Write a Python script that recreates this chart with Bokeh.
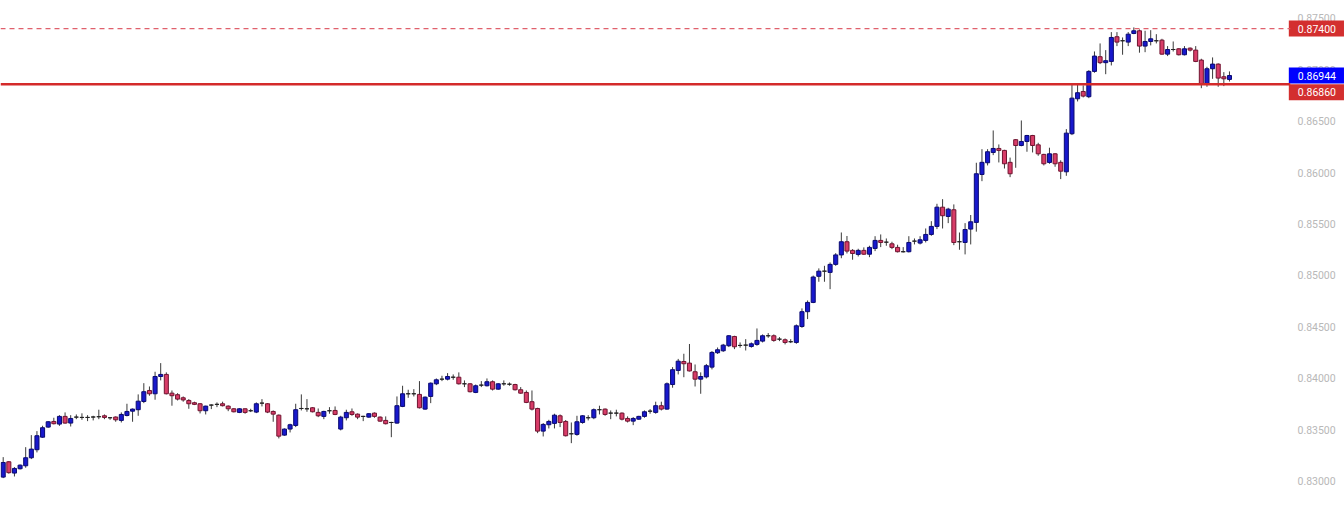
from bokeh.plotting import figure
from bokeh.models import ColumnDataSource, Span, Label, FixedTicker, NumeralTickFormatter
from bokeh.embed import file_html
from bokeh.resources import INLINE

opens = [0.83040, 0.83189, 0.83079, 0.83121, 0.83150, 0.83228, 0.83306, 0.83428, 0.83526, 0.83581,
         0.83555, 0.83630, 0.83565, 0.83623, 0.83620, 0.83620, 0.83624, 0.83627, 0.83636, 0.83617,
         0.83624, 0.83591, 0.83639, 0.83681, 0.83695, 0.83775, 0.83882, 0.83850, 0.84018, 0.84038,
         0.83856, 0.83841, 0.83811, 0.83785, 0.83763, 0.83753, 0.83685, 0.83740, 0.83747, 0.83753,
         0.83730, 0.83704, 0.83669, 0.83704, 0.83685, 0.83672, 0.83759, 0.83753, 0.83678, 0.83642,
         0.83448, 0.83507, 0.83542, 0.83707, 0.83704, 0.83714, 0.83669, 0.83630, 0.83685, 0.83688,
         0.83507, 0.83617, 0.83675, 0.83652, 0.83630, 0.83623, 0.83662, 0.83623, 0.83591, 0.83571,
         0.83565, 0.83727, 0.83850, 0.83850, 0.83844, 0.83701, 0.83824, 0.83947, 0.83992, 0.83992,
         0.84011, 0.84011, 0.83947, 0.83947, 0.83863, 0.83934, 0.83928, 0.83967, 0.83895, 0.83947,
         0.83943, 0.83940, 0.83889, 0.83863, 0.83773, 0.83707, 0.83487, 0.83549, 0.83562, 0.83636,
         0.83581, 0.83461, 0.83455, 0.83571, 0.83617, 0.83617, 0.83695, 0.83701, 0.83662, 0.83662,
         0.83662, 0.83610, 0.83584, 0.83603, 0.83630, 0.83681, 0.83669, 0.83734, 0.83701, 0.83940,
         0.84077, 0.84164, 0.84148, 0.84064, 0.83992, 0.84014, 0.84109, 0.84249, 0.84268, 0.84317,
         0.84407, 0.84320, 0.84323, 0.84310, 0.84330, 0.84362, 0.84414, 0.84414, 0.84381, 0.84375,
         0.84356, 0.84349, 0.84504, 0.84648, 0.84738, 0.84992, 0.85042, 0.85030, 0.85108, 0.85200,
         0.85328, 0.85244, 0.85205, 0.85244, 0.85207, 0.85263, 0.85341, 0.85324, 0.85308, 0.85273,
         0.85231, 0.85231, 0.85334, 0.85315, 0.85341, 0.85399, 0.85477, 0.85664, 0.85574, 0.85639,
         0.85328, 0.85321, 0.85451, 0.85516, 0.85982, 0.86096, 0.86196, 0.86235, 0.86216, 0.86100,
         0.86320, 0.86264, 0.86303, 0.86361, 0.86270, 0.86177, 0.86099, 0.86183, 0.86100, 0.86008,
         0.86378, 0.86718, 0.86789, 0.86738, 0.86984, 0.87127, 0.87069, 0.87081, 0.87321, 0.87282,
         0.87269, 0.87353, 0.87379, 0.87230, 0.87275, 0.87282, 0.87288, 0.87152, 0.87197, 0.87204,
         0.87146, 0.87210, 0.87191, 0.87094, 0.86867, 0.87010, 0.87055, 0.86932, 0.86906]

highs = [0.83234, 0.83195, 0.83137, 0.83163, 0.83331, 0.83448, 0.83487, 0.83539, 0.83584, 0.83617,
         0.83642, 0.83669, 0.83642, 0.83649, 0.83660, 0.83642, 0.83636, 0.83695, 0.83649, 0.83623,
         0.83630, 0.83669, 0.83753, 0.83707, 0.83844, 0.83953, 0.83921, 0.84064, 0.84148, 0.84058,
         0.83882, 0.83856, 0.83824, 0.83798, 0.83773, 0.83759, 0.83734, 0.83747, 0.83766, 0.83773,
         0.83737, 0.83710, 0.83710, 0.83707, 0.83704, 0.83766, 0.83798, 0.83759, 0.83688, 0.83649,
         0.83513, 0.83559, 0.83753, 0.83844, 0.83798, 0.83720, 0.83707, 0.83685, 0.83720, 0.83727,
         0.83636, 0.83695, 0.83707, 0.83659, 0.83636, 0.83662, 0.83669, 0.83630, 0.83630, 0.83578,
         0.83824, 0.83928, 0.83889, 0.83895, 0.83973, 0.83824, 0.83960, 0.83999, 0.84025, 0.84051,
         0.84038, 0.84058, 0.83980, 0.83953, 0.83940, 0.83973, 0.83999, 0.83980, 0.83953, 0.83980,
         0.83960, 0.83947, 0.83915, 0.83882, 0.83882, 0.83714, 0.83565, 0.83597, 0.83656, 0.83649,
         0.83595, 0.83571, 0.83636, 0.83642, 0.83642, 0.83707, 0.83734, 0.83707, 0.83688, 0.83695,
         0.83669, 0.83630, 0.83623, 0.83636, 0.83688, 0.83701, 0.83773, 0.83773, 0.83960, 0.84109,
         0.84189, 0.84239, 0.84334, 0.84135, 0.84058, 0.84140, 0.84265, 0.84300, 0.84335, 0.84420,
         0.84414, 0.84349, 0.84381, 0.84349, 0.84485, 0.84427, 0.84440, 0.84427, 0.84401, 0.84388,
         0.84381, 0.84524, 0.84680, 0.84757, 0.84999, 0.85069, 0.85094, 0.85127, 0.85217, 0.85418,
         0.85384, 0.85256, 0.85260, 0.85273, 0.85289, 0.85382, 0.85399, 0.85360, 0.85328, 0.85299,
         0.85276, 0.85382, 0.85360, 0.85382, 0.85457, 0.85528, 0.85697, 0.85742, 0.85658, 0.85691,
         0.85418, 0.85509, 0.85588, 0.86096, 0.86228, 0.86228, 0.86410, 0.86274, 0.86222, 0.86146,
         0.86326, 0.86507, 0.86367, 0.86367, 0.86290, 0.86183, 0.86242, 0.86189, 0.86120, 0.86423,
         0.86860, 0.86854, 0.86848, 0.86996, 0.87178, 0.87256, 0.87191, 0.87366, 0.87366, 0.87314,
         0.87366, 0.87412, 0.87392, 0.87379, 0.87385, 0.87346, 0.87301, 0.87230, 0.87275, 0.87210,
         0.87230, 0.87217, 0.87230, 0.87107, 0.87029, 0.87120, 0.87062, 0.86977, 0.86984]

lows = [0.83030, 0.83073, 0.83046, 0.83114, 0.83131, 0.83215, 0.83280, 0.83422, 0.83520, 0.83552,
        0.83538, 0.83559, 0.83532, 0.83603, 0.83597, 0.83584, 0.83591, 0.83603, 0.83603, 0.83597,
        0.83578, 0.83571, 0.83630, 0.83578, 0.83636, 0.83759, 0.83831, 0.83792, 0.83980, 0.83844,
        0.83734, 0.83785, 0.83773, 0.83704, 0.83740, 0.83659, 0.83649, 0.83701, 0.83720, 0.83727,
        0.83681, 0.83669, 0.83662, 0.83656, 0.83672, 0.83662, 0.83727, 0.83662, 0.83578, 0.83416,
        0.83442, 0.83474, 0.83526, 0.83688, 0.83675, 0.83669, 0.83623, 0.83603, 0.83656, 0.83642,
        0.83494, 0.83591, 0.83636, 0.83603, 0.83584, 0.83617, 0.83617, 0.83578, 0.83552, 0.83428,
        0.83559, 0.83720, 0.83811, 0.83824, 0.83707, 0.83695, 0.83759, 0.83934, 0.83973, 0.83980,
        0.83986, 0.83940, 0.83915, 0.83863, 0.83856, 0.83915, 0.83921, 0.83882, 0.83889, 0.83928,
        0.83928, 0.83882, 0.83850, 0.83759, 0.83688, 0.83467, 0.83435, 0.83513, 0.83513, 0.83526,
        0.83435, 0.83370, 0.83442, 0.83559, 0.83591, 0.83603, 0.83649, 0.83636, 0.83603, 0.83630,
        0.83591, 0.83571, 0.83545, 0.83597, 0.83617, 0.83656, 0.83656, 0.83688, 0.83695, 0.83909,
        0.84038, 0.84011, 0.84067, 0.83921, 0.83850, 0.83999, 0.84087, 0.84237, 0.84257, 0.84304,
        0.84284, 0.84298, 0.84271, 0.84298, 0.84317, 0.84349, 0.84394, 0.84356, 0.84362, 0.84330,
        0.84343, 0.84336, 0.84491, 0.84576, 0.84731, 0.84939, 0.84939, 0.84867, 0.85094, 0.85168,
        0.85214, 0.85153, 0.85185, 0.85200, 0.85178, 0.85237, 0.85276, 0.85289, 0.85256, 0.85224,
        0.85224, 0.85224, 0.85302, 0.85302, 0.85321, 0.85386, 0.85451, 0.85457, 0.85509, 0.85295,
        0.85250, 0.85205, 0.85302, 0.85426, 0.85917, 0.86070, 0.86170, 0.86099, 0.86040, 0.85956,
        0.86047, 0.86256, 0.86203, 0.86196, 0.86164, 0.86070, 0.86086, 0.86057, 0.85937, 0.85969,
        0.86365, 0.86692, 0.86731, 0.86724, 0.86971, 0.87055, 0.86957, 0.87042, 0.87230, 0.87146,
        0.87230, 0.87346, 0.87166, 0.87171, 0.87237, 0.87256, 0.87146, 0.87133, 0.87178, 0.87139,
        0.87139, 0.87178, 0.87074, 0.86821, 0.86835, 0.86912, 0.86835, 0.86841, 0.86886]

closes = [0.83182, 0.83083, 0.83124, 0.83156, 0.83228, 0.83312, 0.83442, 0.83520, 0.83578, 0.83559,
          0.83630, 0.83565, 0.83610, 0.83623, 0.83620, 0.83620, 0.83624, 0.83627, 0.83620, 0.83617,
          0.83597, 0.83649, 0.83678, 0.83701, 0.83778, 0.83870, 0.83850, 0.84018, 0.84038, 0.83850,
          0.83831, 0.83798, 0.83790, 0.83753, 0.83747, 0.83685, 0.83730, 0.83740, 0.83747, 0.83734,
          0.83704, 0.83675, 0.83704, 0.83669, 0.83685, 0.83753, 0.83759, 0.83672, 0.83652, 0.83438,
          0.83507, 0.83549, 0.83695, 0.83707, 0.83704, 0.83675, 0.83636, 0.83678, 0.83685, 0.83649,
          0.83623, 0.83669, 0.83649, 0.83623, 0.83630, 0.83656, 0.83630, 0.83584, 0.83559, 0.83571,
          0.83734, 0.83850, 0.83850, 0.83850, 0.83714, 0.83817, 0.83953, 0.83986, 0.83992, 0.84018,
          0.84011, 0.83947, 0.83947, 0.83870, 0.83928, 0.83934, 0.83967, 0.83895, 0.83947, 0.83947,
          0.83943, 0.83889, 0.83856, 0.83766, 0.83701, 0.83487, 0.83552, 0.83581, 0.83642, 0.83571,
          0.83442, 0.83461, 0.83578, 0.83636, 0.83617, 0.83695, 0.83695, 0.83649, 0.83662, 0.83662,
          0.83603, 0.83584, 0.83610, 0.83630, 0.83675, 0.83681, 0.83734, 0.83701, 0.83947, 0.84084,
          0.84167, 0.84142, 0.84072, 0.83992, 0.84018, 0.84123, 0.84252, 0.84278, 0.84323, 0.84414,
          0.84307, 0.84320, 0.84323, 0.84336, 0.84369, 0.84414, 0.84414, 0.84369, 0.84381, 0.84349,
          0.84356, 0.84511, 0.84648, 0.84738, 0.84985, 0.85042, 0.85042, 0.85108, 0.85200, 0.85328,
          0.85237, 0.85214, 0.85244, 0.85207, 0.85273, 0.85341, 0.85321, 0.85324, 0.85273, 0.85231,
          0.85231, 0.85321, 0.85334, 0.85347, 0.85399, 0.85477, 0.85664, 0.85581, 0.85645, 0.85321,
          0.85328, 0.85447, 0.85522, 0.85989, 0.86100, 0.86203, 0.86235, 0.86216, 0.86086, 0.85989,
          0.86264, 0.86303, 0.86361, 0.86264, 0.86183, 0.86086, 0.86183, 0.86086, 0.86014, 0.86384,
          0.86724, 0.86777, 0.86744, 0.86984, 0.87133, 0.87069, 0.87088, 0.87314, 0.87269, 0.87282,
          0.87346, 0.87379, 0.87230, 0.87275, 0.87301, 0.87282, 0.87152, 0.87197, 0.87197, 0.87146,
          0.87204, 0.87191, 0.87081, 0.86860, 0.87010, 0.87055, 0.86919, 0.86912, 0.86944]

price_ticks = [0.830, 0.835, 0.840, 0.845, 0.850, 0.855, 0.860, 0.865, 0.870, 0.875]
support_level = 0.86860
resistance_level = 0.87400
last_price = 0.86944

X_START, X_END = -0.48, 228.85
Y_START, Y_END = 0.825791, 0.876734

n = len(closes)
idx = list(range(n))
body_top = [max(o, c) for o, c in zip(opens, closes)]
body_bot = [min(o, c) for o, c in zip(opens, closes)]
fills, edges = [], []
for o, c in zip(opens, closes):
    if c > o:
        fills.append("#1818cc"); edges.append("#0a0a70")
    elif c < o:
        fills.append("#d83c68"); edges.append("#701430")
    else:
        fills.append("#222222"); edges.append("#222222")

src = ColumnDataSource(dict(x=idx, o=opens, h=highs, l=lows, c=closes,
                            top=body_top, bot=body_bot, fill=fills, edge=edges))

p = figure(frame_width=1290, frame_height=524,
           x_range=(X_START, X_END), y_range=(Y_START, Y_END),
           x_axis_location=None, y_axis_location="right",
           toolbar_location=None, output_backend="svg",
           min_border_left=0, min_border_top=0, min_border_bottom=0, min_border_right=54)
p.outline_line_color = None
p.xgrid.visible = False
p.ygrid.visible = False
p.background_fill_color = "white"
p.border_fill_color = "white"

p.segment(x0="x", y0="l", x1="x", y1="h", source=src, line_color="#3a3a3a", line_width=1)
p.vbar(x="x", width=0.72, top="top", bottom="bot", source=src,
       fill_color="fill", line_color="edge", line_width=1)

ax = p.yaxis[0]
ax.ticker = FixedTicker(ticks=price_ticks)
ax.formatter = NumeralTickFormatter(format="0.00000")
ax.axis_line_color = None
ax.major_tick_line_color = None
ax.minor_tick_line_color = None
ax.major_tick_out = 0
ax.major_tick_in = 0
ax.major_label_standoff = 7
ax.major_label_text_color = "#b8b8b8"
ax.major_label_text_font = "Roboto"
ax.major_label_text_font_size = "10.5px"

p.add_layout(Span(location=resistance_level, dimension="width",
                  line_color="#e0606c", line_width=1.2, line_dash="5 4"))
p.add_layout(Span(location=support_level, dimension="width",
                  line_color="#d42a2a", line_width=2.5))

def price_box(level, color, yoff=0):
    return Label(x=X_END - 0.3, x_units="data", y=level, y_units="data", y_offset=yoff,
                 text=f"{level:.5f}", text_color="white", text_font="Roboto",
                 text_font_size="10.5px", text_baseline="middle", text_align="left",
                 background_fill_color=color,
                 padding=dict(left=9, right=8, top=4, bottom=4))

p.add_layout(price_box(resistance_level, "#d32f2f"), "right")
p.add_layout(price_box(last_price, "#0000ff"), "right")
p.add_layout(price_box(support_level, "#d32f2f", -8), "right")

open("out.html", "w").write(file_html(p, INLINE))
